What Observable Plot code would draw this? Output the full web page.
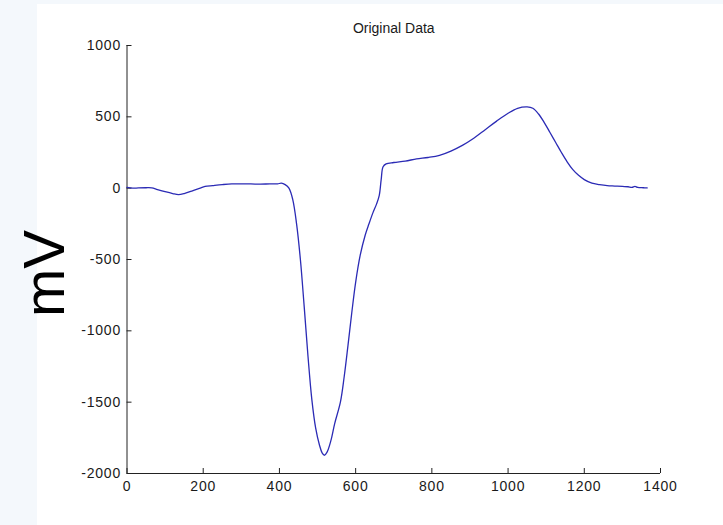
<!DOCTYPE html>
<html><head><meta charset="utf-8">
<script src="https://cdn.jsdelivr.net/npm/d3@7"></script>
<script src="https://cdn.jsdelivr.net/npm/@observablehq/plot@0.6"></script>
<style>
html,body{margin:0;padding:0;background:#f4f8fc;width:723px;height:525px;overflow:hidden}
#panel{position:absolute;left:37px;top:4px;width:686px;height:521px;background:#ffffff}
#chart{position:absolute;left:0;top:0}
#chart svg{background:transparent}
g[aria-label$="tick label"] text{letter-spacing:0.8px}
g[aria-label="title"] text{letter-spacing:0.6px}
</style></head><body><div id="panel"></div><div id="chart"></div>
<script>
const sampleIndex = [0,15,30,50,65,80,100,120,135,150,170,190,205,225,250,275,300,325,350,375,395,405,415,425,435,445,455,465,475,485,495,505,512,518,525,535,545,560,570,580,590,600,612,625,635,645,655,662,667,672,680,700,730,760,790,820,850,880,910,940,970,1000,1025,1050,1065,1080,1095,1110,1125,1140,1155,1170,1185,1200,1220,1240,1260,1280,1300,1315,1325,1333,1340,1355,1365];
const millivolts = [5,0,2,3,2,-10,-25,-38,-45,-38,-20,-2,12,18,25,30,30,30,28,30,30,35,25,0,-80,-250,-500,-830,-1180,-1480,-1680,-1800,-1855,-1872,-1850,-1770,-1650,-1500,-1320,-1100,-870,-660,-470,-330,-250,-175,-110,-50,60,150,170,180,190,205,215,230,260,300,350,410,470,525,560,570,560,520,460,390,320,250,185,130,90,60,35,25,18,15,12,10,5,12,5,3,2];
const xTicks = [0,200,400,600,800,1000,1200,1400];
const yTicks = [-2000,-1500,-1000,-500,0,500,1000];
const titleText = ["Original Data"];
const yLabel = ["mV"];

const data = sampleIndex.map((x, i) => ({x, v: millivolts[i]}));

const chart = Plot.plot({
  width: 723, height: 525,
  marginLeft: 126.5, marginRight: 63, marginTop: 45, marginBottom: 52,
  style: {background: "transparent", fontFamily: "'Liberation Sans', Arial, sans-serif", fontSize: "14px", color: "#1a1a1a"},
  x: {domain: [0, 1400]},
  y: {domain: [-2000, 1000]},
  marks: [
    Plot.axisX(xTicks, {tickSize: -5, tickPadding: 13, tickFormat: d => String(d), label: null, stroke: "#222", fill: "#1a1a1a"}),
    Plot.axisY(yTicks, {tickSize: -5, tickPadding: 11, tickFormat: d => String(d), label: null, stroke: "#222", fill: "#1a1a1a"}),
    Plot.ruleX([0], {stroke: "#222"}),
    Plot.ruleY([-2000], {stroke: "#222"}),
    Plot.line(data, {x: "x", y: "v", stroke: "#2b2bb5", strokeWidth: 1.3, curve: "catmull-rom"}),
    Plot.text(titleText, {frameAnchor: "top", dy: -22, fontSize: 14, fill: "#1a1a1a", ariaLabel: "title"}),
    Plot.text(yLabel, {frameAnchor: "left", dx: -63, dy: 14, rotate: -90, fontSize: 58, lineAnchor: "bottom", textAnchor: "middle", fill: "#000"})
  ]
});
document.getElementById("chart").appendChild(chart);
</script></body></html>
